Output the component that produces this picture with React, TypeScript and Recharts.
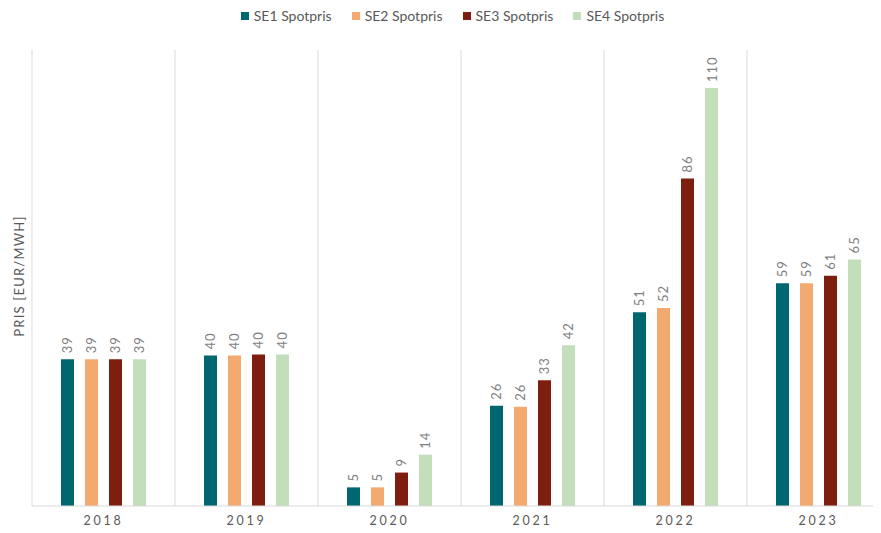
import React from "react";
import { BarChart, Bar, XAxis, YAxis, CartesianGrid, Legend, LabelList, Customized } from "recharts";

const years = ["2018", "2019", "2020", "2021", "2022", "2023"];
const se1 = [38.6, 39.6, 4.9, 26.4, 51.0, 58.6];
const se2 = [38.6, 39.6, 4.9, 26.1, 52.1, 58.6];
const se3 = [38.6, 39.9, 8.8, 33.1, 86.2, 60.6];
const se4 = [38.6, 39.9, 13.5, 42.3, 110.0, 64.9];

const seriesNames = ["SE1 Spotpris", "SE2 Spotpris", "SE3 Spotpris", "SE4 Spotpris"];
const seriesKeys = ["se1", "se2", "se3", "se4"];
const colors = ["#00666F", "#F4A971", "#7E1E11", "#C3DEBA"];

const data = years.map((y, i) => ({ year: y, se1: se1[i], se2: se2[i], se3: se3[i], se4: se4[i] }));

const FONT = "Lato, 'Open Sans', sans-serif";

const ValueLabel = (props: any) => {
  const { x, y, width, value } = props;
  const cx = x + width / 2;
  const cy = y - 6;
  return (
    <text
      x={cx}
      y={cy}
      transform={`rotate(-90, ${cx}, ${cy})`}
      textAnchor="start"
      dominantBaseline="central"
      fill="#7f7f7f"
      fontSize={13}
      fontFamily={FONT}
      letterSpacing={1}
    >
      {Math.round(value)}
    </text>
  );
};

const XTick = (props: any) => {
  const { x, y, payload } = props;
  return (
    <text x={x} y={y} dy={11} textAnchor="middle" fill="#595959" fontSize={12.5} fontFamily={FONT} letterSpacing={2.8}>
      {payload.value}
    </text>
  );
};

const LegendContent = () => (
  <div style={{ display: "flex", justifyContent: "center", fontFamily: FONT, fontSize: 14, color: "#595959", height: 16, lineHeight: "16px" }}>
    {seriesNames.map((n, i) => (
      <div key={n} style={{ display: "flex", alignItems: "center", marginRight: i < 3 ? 20 : 0 }}>
        <div style={{ width: 8, height: 8, background: colors[i], marginRight: 5 }} />
        <span>{n}</span>
      </div>
    ))}
  </div>
);

export default function App() {
  return (
    <div style={{ width: 881, height: 533, overflow: "hidden", margin: -8, position: "relative", background: "#fff" }}>
      <BarChart
        width={900}
        height={533}
        data={data}
        margin={{ top: 34, right: 10, left: 32, bottom: 5 }}
        barSize={13}
        barGap={11}
      >
        <CartesianGrid
          horizontal={false}
          stroke="#d9d9d9"
          verticalCoordinatesGenerator={({ offset }: any) =>
            years.map((_, i) => offset.left + (i * offset.width) / years.length).concat([offset.left + offset.width])
          }
        />
        <XAxis
          dataKey="year"
          height={22}
          axisLine={{ stroke: "#d9d9d9" }}
          tickLine={false}
          tick={<XTick />}
          interval={0}
        />
        <YAxis hide domain={[0, 120]} />
        <Legend verticalAlign="top" height={16} content={<LegendContent />} wrapperStyle={{ top: 8, left: 0, width: 905 }} />
        {seriesKeys.map((k, i) => (
          <Bar key={k} dataKey={k} name={seriesNames[i]} fill={colors[i]} isAnimationActive={false}>
            <LabelList dataKey={k} content={<ValueLabel />} />
          </Bar>
        ))}
        <Customized
          component={() => (
            <text
              x={19}
              y={276}
              transform="rotate(-90, 19, 276)"
              textAnchor="middle"
              dominantBaseline="central"
              fill="#595959"
              fontSize={13}
              fontFamily={FONT}
              letterSpacing={1.2}
            >
              PRIS [EUR/MWH]
            </text>
          )}
        />
      </BarChart>
    </div>
  );
}
